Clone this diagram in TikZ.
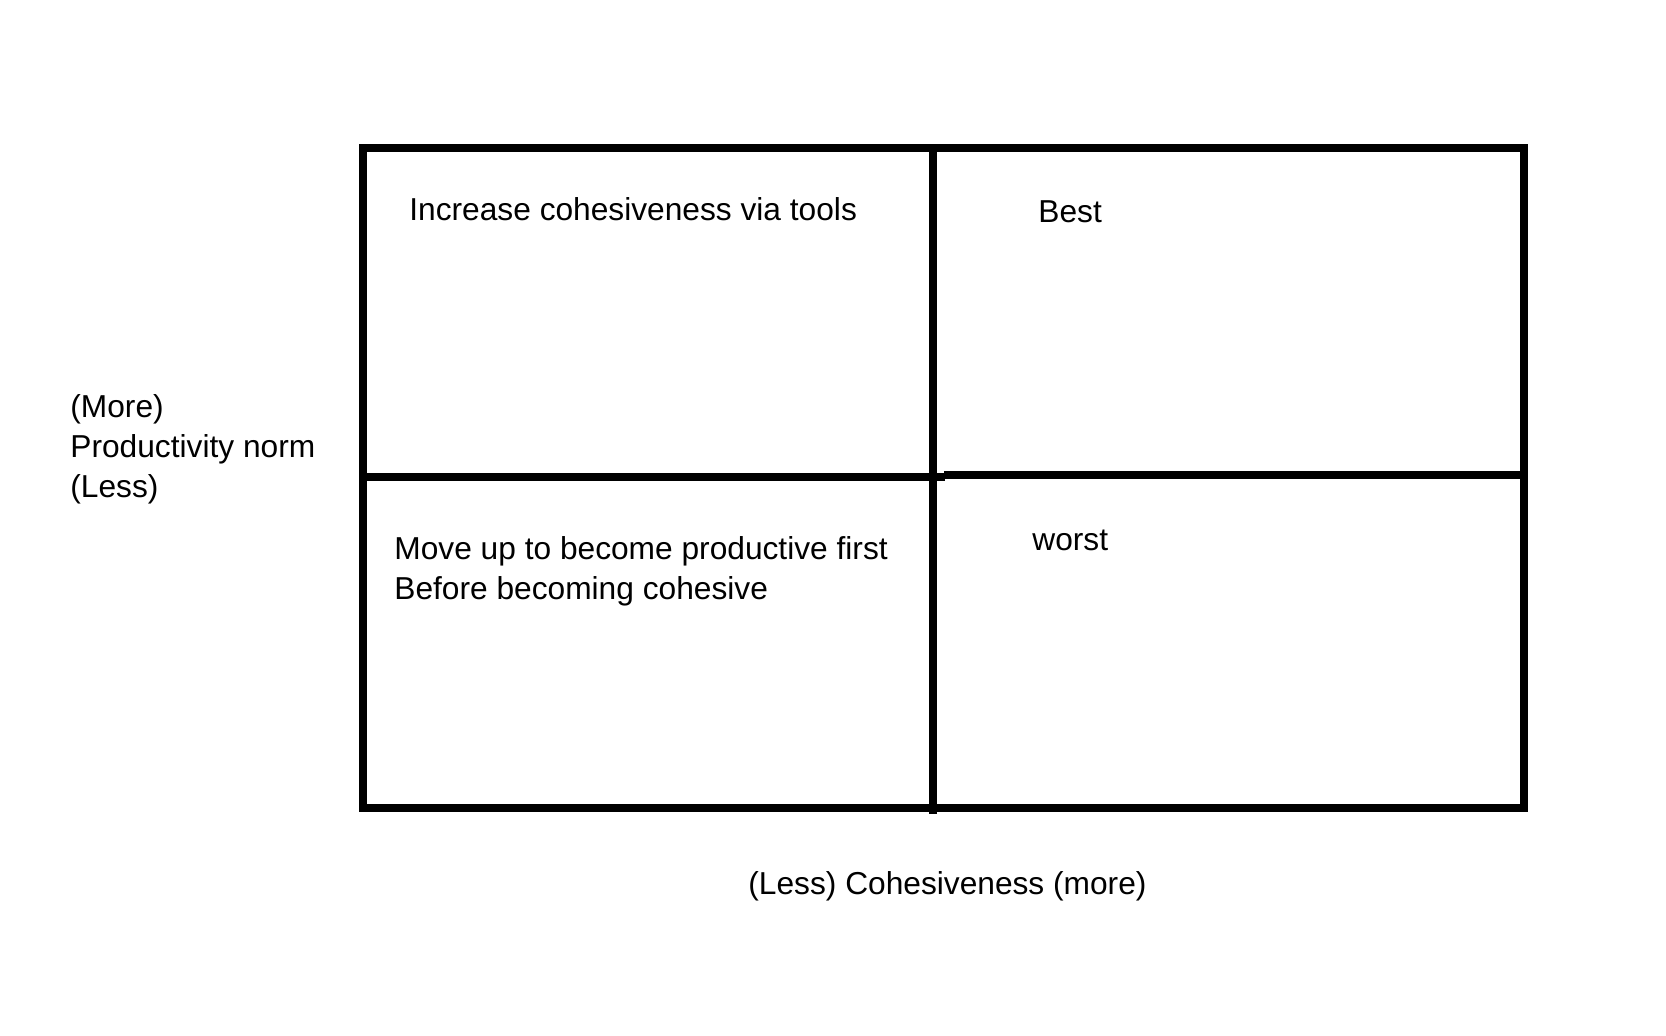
\documentclass[tikz,border=0pt]{standalone}
\usepackage{fontspec}
\setmainfont{Liberation Sans}
\begin{document}
\begin{tikzpicture}[x=0.5pt,y=-0.5pt,
  grid/.style={line width=4pt, draw=black},
  label/.style={inner sep=0pt, anchor=base west, font=\fontsize{15.85}{20}\selectfont, text=black, align=left}]
\useasboundingbox[fill=white] (0,0) rectangle (1666,1036);
% outer frame
\draw[grid, line join=miter] (363,148) rectangle (1524,808);
% quadrant dividers
\draw[grid] (933,152) -- (933,814);
\draw[grid] (363,477) -- (945,477);
\draw[grid] (944,475) -- (1524,475);
% quadrant texts (multi-line nodes are placed by the baseline of their last line)
\node[label] (tl) at (409,221) {Increase cohesiveness via tools};
\node[label] (tr) at (1038,223) {Best};
\node[label] (bl) at (394,600) {Move up to become productive first\\Before becoming cohesive};
\node[label] (br) at (1032,551) {worst};
% axis labels
\node[label] (yaxis) at (70,498) {(More)\\Productivity norm\\(Less)};
\node[label] (xaxis) at (748,895) {(Less) Cohesiveness (more)};
\end{tikzpicture}
\end{document}
